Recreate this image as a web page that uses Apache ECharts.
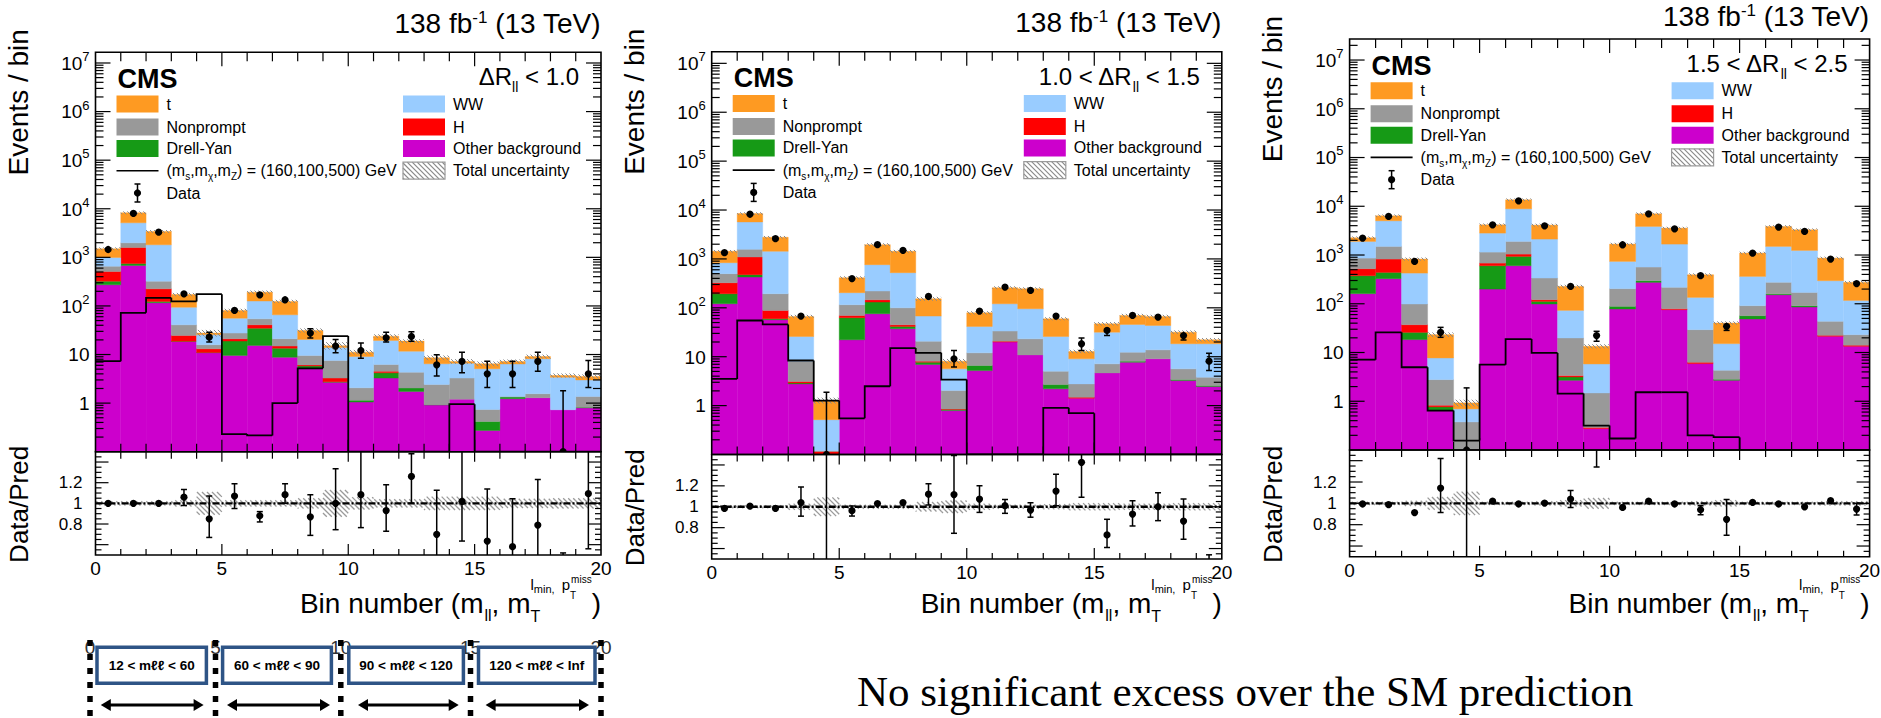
<!DOCTYPE html>
<html>
<head>
<meta charset="utf-8">
<title>Bin number distributions in three ΔR_ll regions</title>
<script src="https://cdn.jsdelivr.net/npm/echarts@6/dist/echarts.min.js"></script>
<style>
html, body { margin: 0; padding: 0; background: #ffffff; }
#chart { width: 1881px; height: 718px; }
</style>
</head>
<body>
<div id="chart"></div>
<script>
// ---------- bin contents: one row per ΔR_ll region, twenty bins per row ----------
const otherBkg = [
  [272, 680, 116, 18.6, 10.9, 9.6, 15.4, 8.8, 5.1, 2.7, 1.05, 3.27, 1.74, 0.92, 1.2, 0.274, 1.23, 1.29, 0.73, 0.80],
  [121, 426, 57, 2.78, 0.03, 22.2, 75.6, 37.2, 6.92, 0.79, 5.2, 19.9, 10.9, 2.2, 1.41, 4.67, 7.73, 9.04, 3.25, 2.45],
  [161, 326, 18.4, 0.644, 0.04, 200, 603, 98.8, 2.69, 0.275, 78, 275, 75.6, 5.92, 2.69, 48.7, 153, 85.7, 21.5, 13.4]
];
const drellYan = [
  [52, 68, 8, 0.2, 0.1, 9.3, 19.5, 4.7, 0.7, 0.05, 0.1, 0.93, 0.3, 0.01, 0, 0.146, 0.1, 0, 0, 0.02],
  [73, 50, 3, 0.12, 0.01, 40.4, 55.4, 4.4, 0.81, 0.04, 1.4, 0, 0, 0.49, 0, 0, 0.37, 0, 0.15, 0.12],
  [215, 114, 7.5, 0.122, 0, 403, 333, 13.2, 0.46, 0, 10.5, 22, 0, 0, 0.13, 8.2, 7, 5.3, 0, 0]
];
const higgs = [
  [188, 848, 101, 5.9, 2.1, 2.2, 6.0, 1.4, 0.3, 0.52, 0, 0.3, 0, 0, 0, 0, 0, 0, 0, 0],
  [132, 620, 28.5, 0.2, 0.075, 7.2, 15, 3.4, 0.37, 0.025, 0, 0.9, 0, 0, 0.07, 0, 0, 0, 0, 0],
  [147, 386, 11.3, 0.062, 0, 80, 109, 9, 0.21, 0.015, 0, 0, 3.4, 0.38, 0, 0, 0, 0, 1.0, 0.7]
];
const nonprompt = [
  [147, 395, 99, 16.2, 2.8, 6.5, 13.5, 6.2, 3.5, 4.3, 0.92, 1.75, 2.3, 1.49, 2.07, 0.32, 0.03, 0.27, 0, 0.55],
  [173, 477, 105.5, 5.0, 0.005, 45.8, 74, 55, 12.7, 1.175, 5.4, 12.6, 12.3, 2.36, 1.3, 2.47, 4.3, 4.76, 2.24, 1.23],
  [342, 674, 61.6, 1.95, 0.337, 465, 855, 216, 16.5, 1.19, 115.5, 269, 138, 23.1, 1.5, 34.4, 115, 80, 21.1, 9.1]
];
const wwBkg = [
  [335, 3145, 1487, 53.1, 9.6, 28.4, 71.6, 44.6, 10.8, 6.4, 7.03, 13.25, 7.36, 4.03, 3.33, 4.36, 5.04, 6.64, 2.67, 1.63],
  [339, 4137, 1238, 17.8, 0.396, 88.4, 543, 423, 46.9, 3.61, 29.6, 87.6, 72.5, 20.85, 6.26, 24.66, 33.3, 29.8, 12.76, 14.6],
  [1035, 3540, 327, 4.95, 0.32, 1667, 6970, 1785, 53.3, 4.34, 535, 3289, 1458, 105.6, 10.88, 272.7, 1225, 1071, 253.4, 93.8]
];
const topBkg = [
  [505, 3112, 1594, 78, 2.1, 25, 66, 58.3, 10.9, 1.2, 2.1, 4.4, 7.2, 2.12, 0.6, 1.35, 0.8, 0.9, 0.3, 0.54],
  [594, 2760, 1338, 40.7, 0.754, 209, 1197, 909, 85.3, 2.46, 37.4, 137, 150, 33.8, 3.76, 15.3, 24.1, 23.1, 13.4, 3.8],
  [360, 1340, 400, 15.5, 0.228, 1355, 4710, 1983, 154, 7.58, 936, 3155, 1890, 259, 25.1, 732, 2355, 2054, 568, 158]
];
// signal hypothesis (m_s, m_chi, m_Z') = (160, 100, 500) GeV
const signalYield = [
  [7.3, 72, 147, 124, 175, 0.23, 0.216, 1.0, 5.2, 24, 0, 0, 0, 0, 0.95, 0, 0, 0, 0, 0],
  [3.52, 55, 45.7, 8.36, 1.27, 0.55, 2.49, 15, 12.0, 3.41, 0, 0, 0, 0.9, 0.70, 0, 0, 0, 0, 0],
  [7.14, 25.9, 4.98, 0.644, 0.156, 5.64, 18.9, 9.8, 1.44, 0.317, 0.172, 1.53, 1.53, 0.2, 0.183, 0, 0, 0, 0, 0]
];
const observed = [
  [1450, 8000, 3300, 178, 22.8, 81, 169, 134, 27.6, 14.9, 12.1, 22.1, 23.5, 6.15, 7.2, 4.0, 4.0, 7.2, 0, 4.0],
  [1343, 8200, 2600, 67.7, 0, 397, 1960, 1500, 171, 9.04, 85.7, 266, 227, 67.7, 18.4, 34.4, 69.8, 64.6, 27.0, 8.1],
  [2224, 6180, 739, 25.9, 0, 4170, 12950, 3980, 227, 22.2, 1623, 7010, 3450, 376, 34.4, 1096, 3735, 3047, 826, 260]
];
const observedErrLow = [
  [38, 89, 57, 13, 4.6, 9, 13, 12, 5.8, 4.0, 3.7, 4.1, 4.7, 2.55, 3.0, 1.9, 1.9, 2.65, 0, 1.9],
  [37, 90, 51, 8.2, 0, 20, 44, 39, 13, 2.9, 9.3, 16, 15, 8.2, 5.0, 7.4, 8.3, 8.0, 5.0, 2.9],
  [47, 79, 27, 5.4, 0, 65, 114, 63, 15, 5.2, 40, 84, 59, 19, 6, 33, 61, 55, 29, 16]
];
const observedErrHigh = [
  [38, 89, 57, 13, 5.8, 9, 13, 12, 6.4, 5.5, 5.1, 6.7, 5.8, 3.75, 4.0, 3.3, 3.3, 4.0, 1.8, 3.5],
  [37, 90, 51, 8.2, 1.87, 20, 44, 39, 13, 4.4, 9.3, 16, 15, 8.2, 5.6, 5.6, 8.3, 8.0, 5.4, 3.7],
  [47, 79, 27, 6.9, 1.88, 65, 114, 63, 15, 5.0, 40, 84, 59, 19, 6, 33, 61, 55, 29, 16]
];
// Data / prediction with the ends of its error bars
const ratioValue = [
  [1.00, 1.00, 1.00, 1.06, 0.85, 1.07, 0.88, 1.084, 0.87, 1.0, 1.084, 0.93, 1.26, 0.70, 1.02, 0.635, 0.58, 0.79, 0, 1.094],
  [0.984, 1.006, 0.984, 1.04, 0, 0.962, 1.03, 1.04, 1.12, 1.117, 1.073, 1.01, 0.968, 1.15, 1.425, 0.73, 0.93, 1.0, 0.863, 0.37],
  [0.994, 0.987, 0.914, 1.143, 0, 1.02, 0.994, 1.003, 1.04, 1.66, 0.962, 1.02, 0.994, 0.94, 0.85, 1.01, 0.994, 0.968, 1.025, 0.946]
];
const ratioLow = [
  [0.99, 0.99, 0.98, 0.98, 0.67, 0.95, 0.82, 1.0, 0.69, 0.745, 0.765, 0.73, 1.0, 0.45, 0.635, 0.45, 0.45, 0.45, 0, 0.56],
  [0.975, 1.0, 0.975, 0.91, 0, 0.911, 1.02, 1.03, 1.016, 0.746, 0.946, 0.937, 0.9, 1.01, 1.09, 0.61, 0.816, 0.867, 0.689, 0.25],
  [0.985, 0.98, 0.895, 0.914, 0, 1.01, 0.99, 0.995, 0.96, 1.34, 0.952, 1.01, 0.985, 0.892, 0.70, 1.0, 0.985, 0.958, 1.015, 0.89]
];
const ratioHigh = [
  [1.01, 1.01, 1.02, 1.135, 1.07, 1.19, 0.92, 1.19, 1.084, 1.335, 1.55, 1.18, 1.48, 1.126, 1.55, 1.14, 1.045, 1.23, 0.52, 1.51],
  [0.993, 1.012, 0.993, 1.19, 1.6, 1.006, 1.04, 1.05, 1.22, 1.49, 1.2, 1.07, 1.038, 1.31, 1.55, 0.88, 1.057, 1.133, 1.073, 0.54],
  [1.003, 0.995, 0.935, 1.42, 2.03, 1.03, 1.0, 1.011, 1.12, 2.0, 0.972, 1.03, 1.003, 0.978, 1.035, 1.02, 1.003, 0.978, 1.035, 1.0]
];
// relative total uncertainty of the prediction
const relUncertainty = [
  [0.02, 0.02, 0.02, 0.03, 0.11, 0.03, 0.03, 0.03, 0.05, 0.13, 0.06, 0.04, 0.04, 0.065, 0.065, 0.065, 0.045, 0.045, 0.05, 0.05],
  [0.015, 0.015, 0.015, 0.03, 0.09, 0.02, 0.02, 0.02, 0.045, 0.06, 0.03, 0.02, 0.02, 0.025, 0.035, 0.035, 0.03, 0.03, 0.035, 0.035],
  [0.015, 0.015, 0.025, 0.06, 0.11, 0.015, 0.015, 0.02, 0.03, 0.05, 0.015, 0.015, 0.015, 0.02, 0.03, 0.015, 0.015, 0.015, 0.02, 0.02]
];
// ΔR_ll region bounds and the axis tick labels
const regionLow = ['', '1.0', '1.5'];
const regionHigh = ['1.0', '1.5', '2.5'];
const binTickLabels = ['0', '5', '10', '15', '20'];
const ratioTickLabels = ['0.8', '1', '1.2'];
const massRanges = ['12 < mℓℓ < 60', '60 < mℓℓ < 90', '90 < mℓℓ < 120', '120 < mℓℓ < Inf'];

// ---------- drawing setup ----------
const BIN_COUNT = 20;
const Y_MIN = 0.1;
const SANS = '"Liberation Sans", Arial, "DejaVu Sans", sans-serif';
const SERIF = '"Liberation Serif", "Times New Roman", serif';
const stackValues = [otherBkg, drellYan, higgs, nonprompt, wwBkg, topBkg];      // bottom to top
const stackColors = ['#CC00CC', '#169A16', '#FF0000', '#999999', '#99CCFF', '#FE9A22'];
const HATCH = '#8a8a8a';

const panels = [
  { left: 95.5, right: 601, top: 52.3, mid: 451.7, bottom: 555, yMax: 1.66e7, lumiBase: 33.3 },
  { left: 711.7, right: 1221.8, top: 51.7, mid: 454.5, bottom: 559, yMax: 1.73e7, lumiBase: 32.7 },
  { left: 1349.6, right: 1869.6, top: 39, mid: 450, bottom: 556.7, yMax: 2.7e7, lumiBase: 26.5 }
];

const measureCtx = document.createElement('canvas').getContext('2d');
function fontStr(size, bold, family) { return (bold ? 'bold ' : '') + size + 'px ' + (family || SANS); }
function textW(t, size, bold, family) { measureCtx.font = fontStr(size, bold, family); return measureCtx.measureText(t).width; }

// lays text pieces (with sub/superscripts) along a baseline
function pieceTexts(x, yb, pieces, align, family, color) {
  const ws = pieces.map(p => textW(p.t, p.s, p.b, family));
  let total = 0;
  pieces.forEach((p, i) => { total += (p.dx || 0); if (!p.hold) total += ws[i]; });
  let cx = align === 'right' ? x - total : (align === 'center' ? x - total / 2 : x);
  return pieces.map((p, i) => {
    cx += (p.dx || 0);
    const el = {
      type: 'text', x: cx, y: yb + (p.dy || 0) - 0.35 * p.s, silent: true,
      style: { text: p.t, font: fontStr(p.s, p.b, family), fill: color || '#000', textAlign: 'left', textVerticalAlign: 'middle', align: 'left', verticalAlign: 'middle' }
    };
    if (!p.hold) cx += ws[i];
    return el;
  });
}

function seg(x1, y1, x2, y2, w, color, dash) {
  const st = { stroke: color || '#000', lineWidth: w || 1.2 };
  if (dash) st.lineDash = dash;
  return { type: 'line', shape: { x1, y1, x2, y2 }, style: st, silent: true };
}

// diagonal "\" hatching inside a rectangle
function hatch(x0, y0, x1, y1, gap, color, lw) {
  const out = [];
  const c0 = Math.ceil((y0 - x1) / gap) * gap;
  for (let c = c0; c <= y1 - x0; c += gap) {
    const xa = Math.max(x0, y0 - c), xb = Math.min(x1, y1 - c);
    if (xb - xa > 0.3) out.push(seg(xa, xa + c, xb, xb + c, lw, color));
  }
  return out;
}

const grids = [], xAxes = [], yAxes = [], series = [];

panels.forEach((P, p) => {
  const w = P.right - P.left;
  grids.push({ left: P.left, top: P.top, width: w, height: P.mid - P.top, show: false, containLabel: false, outerBoundsMode: 'none' });
  grids.push({ left: P.left, top: P.mid, width: w, height: P.bottom - P.mid, show: false, containLabel: false, outerBoundsMode: 'none' });
  xAxes.push({ type: 'value', gridIndex: 2 * p, min: 0, max: BIN_COUNT, show: false });
  xAxes.push({ type: 'value', gridIndex: 2 * p + 1, min: 0, max: BIN_COUNT, show: false });
  yAxes.push({ type: 'log', logBase: 10, gridIndex: 2 * p, min: Y_MIN, max: P.yMax, show: false });
  yAxes.push({ type: 'value', gridIndex: 2 * p + 1, min: 0.5, max: 1.5, show: false });

  const mainIdx = { xAxisIndex: 2 * p, yAxisIndex: 2 * p };
  const ratioIdx = { xAxisIndex: 2 * p + 1, yAxisIndex: 2 * p + 1 };

  // stacked backgrounds
  let running = new Array(BIN_COUNT).fill(0);
  stackValues.forEach((arr, k) => {
    const lower = running.slice();
    const upper = lower.map((v, i) => v + arr[p][i]);
    const color = stackColors[k];
    series.push(Object.assign({
      type: 'custom', coordinateSystem: 'cartesian2d', clip: true, silent: true, z: 2,
      data: lower.map((lo, i) => [i, lo, upper[i]]),
      renderItem: (params, api) => {
        const i = api.value(0), hi = api.value(2), loRaw = api.value(1);
        if (!(hi > Y_MIN) || !(hi > loRaw)) return;
        const lo = Math.max(loRaw, Y_MIN);
        const a = api.coord([i, hi]), b = api.coord([i + 1, lo]);
        return { type: 'rect', shape: { x: a[0], y: a[1], width: b[0] - a[0], height: b[1] - a[1] },
          style: { fill: color, stroke: color, lineWidth: 0.4 } };
      }
    }, mainIdx));
    running = upper;
  });
  const total = running;

  // total uncertainty band on the stack
  series.push(Object.assign({
    type: 'custom', coordinateSystem: 'cartesian2d', clip: true, silent: true, z: 3,
    data: total.map((t, i) => [i, t * (1 - relUncertainty[p][i]), t * (1 + relUncertainty[p][i])]),
    renderItem: (params, api) => {
      const i = api.value(0);
      const a = api.coord([i, api.value(2)]), b = api.coord([i + 1, Math.max(api.value(1), Y_MIN)]);
      return { type: 'group', children: hatch(a[0], a[1] - 1, b[0], b[1] + 1, 4, HATCH, 1) };
    }
  }, mainIdx));

  // signal step line
  series.push(Object.assign({
    type: 'custom', coordinateSystem: 'cartesian2d', clip: true, silent: true, z: 4,
    data: signalYield[p].map((v, i) => [i, v, i > 0 ? signalYield[p][i - 1] : v]),
    renderItem: (params, api) => {
      const i = api.value(0);
      const v = Math.max(api.value(1), Y_MIN), prev = Math.max(api.value(2), Y_MIN);
      const a = api.coord([i, prev]), b = api.coord([i, v]), c = api.coord([i + 1, v]);
      return { type: 'polyline', shape: { points: [a, b, c] }, style: { stroke: '#000', lineWidth: 1.8, fill: null } };
    }
  }, mainIdx));

  // observed data with error bars
  series.push(Object.assign({
    type: 'custom', coordinateSystem: 'cartesian2d', clip: true, silent: true, z: 5,
    data: observed[p].map((v, i) => [i + 0.5, v, observedErrLow[p][i], observedErrHigh[p][i]]),
    renderItem: (params, api) => {
      const x = api.value(0), v = api.value(1), lo = api.value(2), hi = api.value(3);
      const c = api.coord([x, Math.max(v, Y_MIN)]);
      const yTop = api.coord([x, Math.max(v + hi, Y_MIN)])[1];
      const hasLow = v - lo > Y_MIN;
      const yBot = hasLow ? api.coord([x, v - lo])[1] : api.coord([x, Y_MIN])[1];
      const ch = [seg(c[0], yTop, c[0], yBot, 1.5)];
      if (c[1] - yTop > 4) ch.push(seg(c[0] - 3, yTop, c[0] + 3, yTop, 1.5));
      if (hasLow && yBot - c[1] > 4) ch.push(seg(c[0] - 3, yBot, c[0] + 3, yBot, 1.5));
      ch.push({ type: 'circle', shape: { cx: c[0], cy: c[1], r: 3.6 }, style: { fill: '#000' } });
      return { type: 'group', children: ch };
    }
  }, mainIdx));

  // frame, ticks and labels of the event-count pad
  series.push(Object.assign({
    type: 'custom', coordinateSystem: 'cartesian2d', clip: false, silent: true, z: 6,
    data: [[0, 1]],
    renderItem: (params, api) => {
      const cs = params.coordSys;
      const x0 = cs.x, x1 = cs.x + cs.width, y0 = cs.y, y1 = cs.y + cs.height;
      const g = [];
      for (let e = -1; e <= 7; e++) {
        for (let m = 1; m <= 9; m++) {
          const v = m * Math.pow(10, e);
          if (v <= Y_MIN * 1.001 || v > P.yMax) continue;
          const y = api.coord([0, v])[1];
          const L = m === 1 ? 15 : 8;
          g.push(seg(x0, y, x0 + L, y, 1.2), seg(x1 - L, y, x1, y, 1.2));
        }
      }
      for (let k = 1; k < BIN_COUNT; k++) {
        const x = api.coord([k, 1])[0];
        g.push(seg(x, y0, x, y0 + (k % 5 === 0 ? 14 : 9), 1.2));
        g.push(seg(x, y1, x, y1 - (k % 5 === 0 ? 12 : 8), 1.2));
      }
      for (let e = 0; e <= 7; e++) {
        const y = api.coord([0, Math.pow(10, e)])[1];
        const pcs = e === 0 ? [{ t: '1', s: 19 }] : (e === 1 ? [{ t: '10', s: 19 }] : [{ t: '10', s: 19 }, { t: String(e), s: 13, dy: -9 }]);
        g.push(...pieceTexts(x0 - 6, y + 7, pcs, 'right'));
      }
      g.push({ type: 'rect', shape: { x: x0, y: y0, width: cs.width, height: cs.height }, style: { fill: null, stroke: '#000', lineWidth: 1.6 } });
      return { type: 'group', children: g };
    }
  }, mainIdx));

  // ratio pad: uncertainty band
  series.push(Object.assign({
    type: 'custom', coordinateSystem: 'cartesian2d', clip: true, silent: true, z: 3,
    data: relUncertainty[p].map((u, i) => [i, 1 - u, 1 + u]),
    renderItem: (params, api) => {
      const i = api.value(0);
      const a = api.coord([i, api.value(2)]), b = api.coord([i + 1, api.value(1)]);
      return { type: 'group', children: hatch(a[0], a[1], b[0], b[1], 5, '#9a9a9a', 1.3) };
    }
  }, ratioIdx));

  // ratio pad: frame, ticks, reference line and labels
  series.push(Object.assign({
    type: 'custom', coordinateSystem: 'cartesian2d', clip: false, silent: true, z: 4,
    data: [[0, 1]],
    renderItem: (params, api) => {
      const cs = params.coordSys;
      const x0 = cs.x, x1 = cs.x + cs.width, y0 = cs.y, y1 = cs.y + cs.height;
      const g = [];
      const yOne = api.coord([0, 1])[1];
      g.push(seg(x0, yOne, x1, yOne, 2.4, '#000', [7, 2, 2, 2]));
      for (let k = 11; k <= 29; k++) {
        const y = api.coord([0, k * 0.05])[1];
        const L = k % 4 === 0 ? 13 : 6;
        g.push(seg(x0, y, x0 + L, y, 1.2), seg(x1 - L, y, x1, y, 1.2));
      }
      for (let k = 1; k < BIN_COUNT; k++) {
        const x = api.coord([k, 1])[0];
        g.push(seg(x, y1, x, y1 - (k % 5 === 0 ? 11 : 6), 1.2));
        g.push(seg(x, y0, x, y0 + (k % 5 === 0 ? 10 : 7), 1.2));
      }
      ratioTickLabels.forEach(lbl => {
        const y = api.coord([0, parseFloat(lbl)])[1];
        g.push(...pieceTexts(x0 - 13, y + 6, [{ t: lbl, s: 17 }], 'right'));
      });
      binTickLabels.forEach(lbl => {
        const x = api.coord([parseFloat(lbl), 1])[0];
        g.push(...pieceTexts(x, y1 + 20, [{ t: lbl, s: 19 }], 'center'));
      });
      g.push({ type: 'rect', shape: { x: x0, y: y0, width: cs.width, height: cs.height }, style: { fill: null, stroke: '#000', lineWidth: 1.6 } });
      return { type: 'group', children: g };
    }
  }, ratioIdx));

  // ratio pad: data / prediction points
  series.push(Object.assign({
    type: 'custom', coordinateSystem: 'cartesian2d', clip: true, silent: true, z: 5,
    data: ratioValue[p].map((r, i) => [i + 0.5, r, ratioLow[p][i], ratioHigh[p][i]]),
    renderItem: (params, api) => {
      const x = api.value(0), r = api.value(1);
      const lo = Math.max(api.value(2), 0.3), hi = Math.min(api.value(3), 1.7);
      const c = api.coord([x, r]);
      const yT = api.coord([x, hi])[1], yB = api.coord([x, lo])[1];
      const ch = [seg(c[0], yT, c[0], yB, 1.5)];
      if (c[1] - yT > 4 || r < 0.5) ch.push(seg(c[0] - 3, yT, c[0] + 3, yT, 1.5));
      if (yB - c[1] > 4 || r > 1.5) ch.push(seg(c[0] - 3, yB, c[0] + 3, yB, 1.5));
      if (r >= 0.45 && r <= 1.55) ch.push({ type: 'circle', shape: { cx: c[0], cy: c[1], r: 3.6 }, style: { fill: '#000' } });
      return { type: 'group', children: ch };
    }
  }, ratioIdx));
});

// ---------- static texts, legends and annotations ----------
const graphics = [];
panels.forEach((P, p) => {
  const L = P.left, R = P.right, T = P.top;
  // luminosity and energy
  graphics.push(...pieceTexts(R, P.lumiBase, [{ t: '138 fb', s: 28 }, { t: '-1', s: 17, dy: -10 }, { t: ' (13 TeV)', s: 28 }], 'right'));
  // CMS label
  graphics.push(...pieceTexts(L + 22, T + 36, [{ t: 'CMS', s: 27, b: true }], 'left'));
  // region label
  const lowPart = regionLow[p] ? regionLow[p] + ' < ΔR' : 'ΔR';
  graphics.push(...pieceTexts(R - 22, T + 33, [{ t: lowPart, s: 24 }, { t: 'll', s: 14, dy: 7 }, { t: ' < ' + regionHigh[p], s: 24 }], 'right'));
  // axis titles
  graphics.push({ type: 'text', x: L - 77, y: T + 50, rotation: Math.PI / 2, silent: true,
    style: { text: 'Events / bin', font: fontStr(28), fill: '#000', textAlign: 'center', textVerticalAlign: 'middle', align: 'center', verticalAlign: 'middle' } });
  graphics.push({ type: 'text', x: L - 77, y: (P.mid + P.bottom) / 2 + 1, rotation: Math.PI / 2, silent: true,
    style: { text: 'Data/Pred', font: fontStr(26), fill: '#000', textAlign: 'center', textVerticalAlign: 'middle', align: 'center', verticalAlign: 'middle' } });
  graphics.push(...pieceTexts(R, 613, [
    { t: 'Bin number (m', s: 28 },
    { t: 'll', s: 16, dy: 8, dx: 1 },
    { t: ', m', s: 28 },
    { t: 'T', s: 16, dy: 9, hold: true },
    { t: 'l', s: 15, dy: -23 },
    { t: 'min,', s: 11, dy: -20 },
    { t: ' p', s: 15, dy: -23, dx: 3 },
    { t: 'T', s: 10, dy: -14, hold: true },
    { t: 'miss', s: 10, dy: -30, dx: 1 },
    { t: ')', s: 28 }
  ], 'right'));

  // legend
  const rows = [51.7, 74.7, 96.2, 118.4, 140.7].map(d => T + d);
  const lx = L + 21, rx = R - 198;
  const box = (x, y, color) => graphics.push({ type: 'rect', shape: { x: x, y: y - 8.5, width: 42, height: 17 }, style: { fill: color }, silent: true });
  const label = (x, y, pieces) => graphics.push(...pieceTexts(x + 50, y + 5.6, pieces, 'left'));
  box(lx, rows[0], stackColors[5]); label(lx, rows[0], [{ t: 't', s: 16 }]);
  box(lx, rows[1], stackColors[3]); label(lx, rows[1], [{ t: 'Nonprompt', s: 16 }]);
  box(lx, rows[2], stackColors[1]); label(lx, rows[2], [{ t: 'Drell-Yan', s: 16 }]);
  graphics.push(seg(lx, rows[3], lx + 42, rows[3], 1.6));
  label(lx, rows[3], [{ t: '(m', s: 16 }, { t: 's', s: 10, dy: 4 }, { t: ',m', s: 16 }, { t: 'χ', s: 10, dy: 4 }, { t: ',m', s: 16 }, { t: 'Z', s: 10, dy: 4 }, { t: ') = (160,100,500) GeV', s: 16 }]);
  graphics.push(seg(lx + 21, rows[4] - 9, lx + 21, rows[4] + 9, 1.5), seg(lx + 18, rows[4] - 9, lx + 24, rows[4] - 9, 1.5), seg(lx + 18, rows[4] + 9, lx + 24, rows[4] + 9, 1.5));
  graphics.push({ type: 'circle', shape: { cx: lx + 21, cy: rows[4], r: 3.6 }, style: { fill: '#000' }, silent: true });
  label(lx, rows[4], [{ t: 'Data', s: 16 }]);
  box(rx, rows[0], stackColors[4]); label(rx, rows[0], [{ t: 'WW', s: 16 }]);
  box(rx, rows[1], stackColors[2]); label(rx, rows[1], [{ t: 'H', s: 16 }]);
  box(rx, rows[2], stackColors[0]); label(rx, rows[2], [{ t: 'Other background', s: 16 }]);
  graphics.push(...hatch(rx, rows[3] - 8.5, rx + 42, rows[3] + 8.5, 5, HATCH, 1.2));
  graphics.push({ type: 'rect', shape: { x: rx, y: rows[3] - 8.5, width: 42, height: 17 }, style: { fill: null, stroke: '#9a9a9a', lineWidth: 1.2 }, silent: true });
  label(rx, rows[3], [{ t: 'Total uncertainty', s: 16 }]);
});

// dilepton-mass ranges of the bin groups, drawn under the first panel
const groupEdges = [90, 215.5, 340.8, 470.5, 601];
groupEdges.forEach((x, k) => {
  graphics.push(...pieceTexts(x, 654, [{ t: binTickLabels[k], s: 19 }], 'center', SANS, '#333'));
});
const boxSpans = [[97, 206.4], [222.6, 331.4], [348.8, 463.4], [478.5, 595]];
const arrowSpans = [[100.8, 203.6], [227, 330], [358, 458.7], [485.6, 589]];
boxSpans.forEach((s, k) => {
  graphics.push({ type: 'rect', shape: { x: s[0], y: 647.3, width: s[1] - s[0], height: 36 }, style: { fill: '#fff', stroke: '#2E5486', lineWidth: 3.5 }, silent: true });
  graphics.push(...pieceTexts((s[0] + s[1]) / 2, 670, [{ t: massRanges[k], s: 13.5, b: true }], 'center'));
});
groupEdges.forEach(x => graphics.push(seg(x, 640, x, 718, 5.5, '#000', [6, 8])));
arrowSpans.forEach(s => {
  const y = 705, head = 10, half = 6;
  graphics.push(seg(s[0] + 4, y, s[1] - 4, y, 3));
  graphics.push({ type: 'polygon', shape: { points: [[s[0], y], [s[0] + head, y - half], [s[0] + head, y + half]] }, style: { fill: '#000' }, silent: true });
  graphics.push({ type: 'polygon', shape: { points: [[s[1], y], [s[1] - head, y - half], [s[1] - head, y + half]] }, style: { fill: '#000' }, silent: true });
});
graphics.push(...pieceTexts(857, 707, [{ t: 'No significant excess over the SM prediction', s: 43 }], 'left', SERIF));

const chart = echarts.init(document.getElementById('chart'), null, { renderer: 'svg', width: 1881, height: 718 });
chart.setOption({
  animation: false,
  backgroundColor: '#ffffff',
  grid: grids,
  xAxis: xAxes,
  yAxis: yAxes,
  series: series,
  graphic: { elements: graphics }
});
</script>
</body>
</html>
